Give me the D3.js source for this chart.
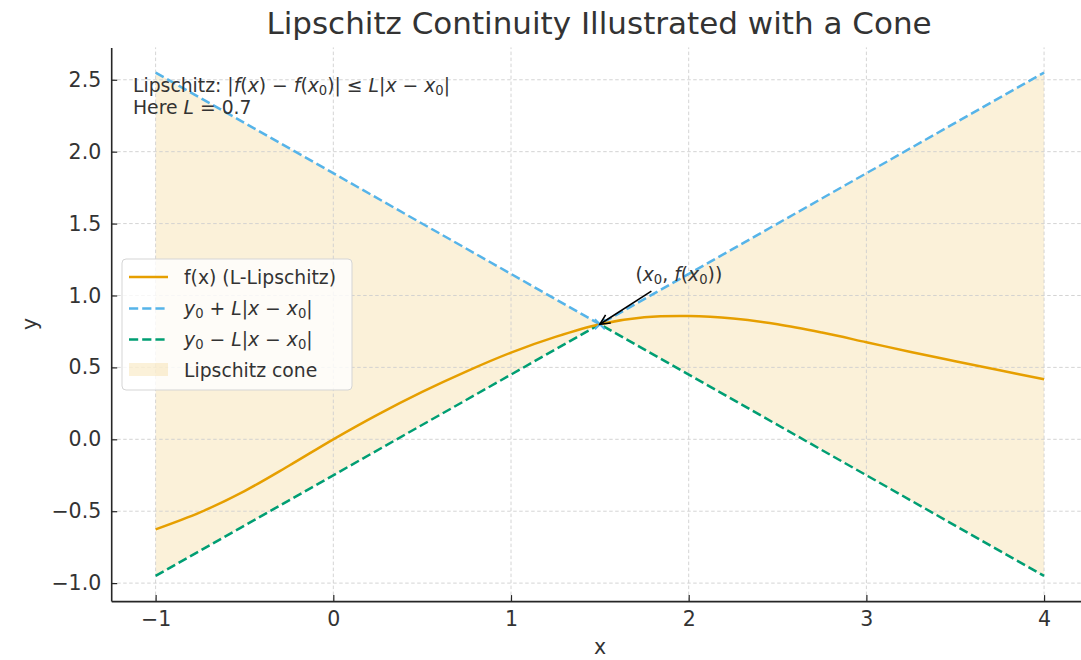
<!DOCTYPE html>
<html>
<head>
<meta charset="utf-8">
<script src="https://cdn.jsdelivr.net/npm/d3@7"></script>
<style>
body { margin: 0; background: #fff; }
text { font-family: "DejaVu Sans", sans-serif; fill: #333; }
</style>
</head>
<body>
<div id="chart"></div>
<script>
// f(x)
var xValues = [-1, -0.75, -0.5, -0.25, 0, 0.25, 0.5, 0.75, 1, 1.25, 1.5, 1.75, 2, 2.25, 2.5, 2.75, 3, 3.25, 3.5, 3.75, 4];
var fValues = [-0.626, -0.508, -0.36, -0.184, 0, 0.172, 0.33, 0.473, 0.603, 0.712, 0.80, 0.848, 0.857, 0.84, 0.80, 0.742, 0.675, 0.607, 0.543, 0.48, 0.418];

// cone edges
var coneX = [-1, 1.5, 4];
var upperY = [2.55, 0.8, 2.55];
var lowerY = [-0.95, 0.8, -0.95];
var pointX = 1.5, pointY = 0.8;

var xTicks = [-1, 0, 1, 2, 3, 4];
var yTicks = [-1, -0.5, 0, 0.5, 1, 1.5, 2, 2.5];
var xDomain = [-1.25, 4.25];
var yDomain = [-1.125, 2.725];

var width = 1081, height = 660;
var orange = '#E69F00', blue = '#56B4E9', green = '#009E73';

var svg = d3.select('#chart').append('svg')
    .attr('width', width)
    .attr('height', height);

var xScale = d3.scaleLinear().domain(xDomain).range([111.2, 1088.5]);
var yScale = d3.scaleLinear().domain(yDomain).range([601.1, 47.4]);

// write text with italic letters and subscripts, matplotlib mathtext style
function mathText(sel, parts, fs) {
  var shift = 0.16 * fs;
  var down = false;
  parts.forEach(function(p) {
    var t = sel.append('tspan').text(p[0]);
    if (p[1] == 'i') t.attr('font-style', 'italic');
    if (p[1] == 's') {
      t.attr('font-size', fs * 0.7).attr('dy', shift);
      down = true;
    } else if (down) {
      t.attr('dy', -shift);
      down = false;
    }
  });
}

// cone
var coneData = coneX.map(function(d, i) { return {x: d, hi: upperY[i], lo: lowerY[i]}; });
svg.append('path')
    .datum(coneData)
    .attr('d', d3.area().x(d => xScale(d.x)).y0(d => yScale(d.lo)).y1(d => yScale(d.hi)))
    .attr('fill', orange)
    .attr('fill-opacity', 0.15);

// grid
svg.append('g').selectAll('line').data(xTicks).enter().append('line')
    .attr('x1', d => xScale(d)).attr('x2', d => xScale(d))
    .attr('y1', yScale.range()[0]).attr('y2', yScale.range()[1])
    .attr('stroke', '#cfcfcf').attr('stroke-width', 0.9).attr('stroke-dasharray', '3.5,2.5');
svg.append('g').selectAll('line').data(yTicks).enter().append('line')
    .attr('x1', xScale.range()[0]).attr('x2', xScale.range()[1])
    .attr('y1', d => yScale(d)).attr('y2', d => yScale(d))
    .attr('stroke', '#cfcfcf').attr('stroke-width', 0.9).attr('stroke-dasharray', '3.5,2.5');

// cone edges
var edge = d3.line().x(d => xScale(d[0])).y(d => yScale(d[1]));
svg.append('path')
    .attr('d', edge(coneX.map((d, i) => [d, upperY[i]])))
    .attr('fill', 'none').attr('stroke', blue).attr('stroke-width', 2.5)
    .attr('stroke-dasharray', '9.2,4');
svg.append('path')
    .attr('d', edge(coneX.map((d, i) => [d, lowerY[i]])))
    .attr('fill', 'none').attr('stroke', green).attr('stroke-width', 2.5)
    .attr('stroke-dasharray', '9.2,4');

// f(x)
svg.append('path')
    .datum(xValues.map((d, i) => [d, fValues[i]]))
    .attr('d', d3.line().x(d => xScale(d[0])).y(d => yScale(d[1])).curve(d3.curveCatmullRom))
    .attr('fill', 'none').attr('stroke', orange).attr('stroke-width', 2.5);

// point marker (x)
var px = xScale(pointX), py = yScale(pointY);
svg.append('path')
    .attr('d', `M${px-5},${py-5}L${px+5},${py+5}M${px-5},${py+5}L${px+5},${py-5}`)
    .attr('stroke', blue).attr('stroke-width', 2);

// axes
var xAxis = d3.axisBottom(xScale).tickValues(xTicks).tickSizeInner(-6).tickSizeOuter(0).tickPadding(10)
    .tickFormat(d => d3.format('d')(d).replace('-', '\u2212'));
var yAxis = d3.axisLeft(yScale).tickValues(yTicks).tickSizeInner(-6).tickSizeOuter(0).tickPadding(10)
    .tickFormat(d => d3.format('.1f')(d).replace('-', '\u2212'));

var gx = svg.append('g').attr('transform', `translate(0,${yScale.range()[0]})`).call(xAxis);
var gy = svg.append('g').attr('transform', `translate(${xScale.range()[0]},0)`).call(yAxis);
[gx, gy].forEach(function(g) {
  g.select('.domain').attr('stroke', '#262626').attr('stroke-width', 1.6);
  g.selectAll('.tick line').attr('stroke', '#262626').attr('stroke-width', 1.2);
  g.selectAll('.tick text').attr('font-size', 20.5).attr('fill', '#333')
      .attr('font-family', '"DejaVu Sans", sans-serif');
});

// title and axis labels
svg.append('text').attr('x', 599).attr('y', 34).attr('text-anchor', 'middle')
    .attr('font-size', 31).text('Lipschitz Continuity Illustrated with a Cone');
svg.append('text').attr('x', 600).attr('y', 654).attr('text-anchor', 'middle')
    .attr('font-size', 20.5).text('x');
svg.append('text').attr('transform', 'translate(37,324) rotate(-90)').attr('text-anchor', 'middle')
    .attr('font-size', 20.5).text('y');

// note in the corner
var fs = 18.8;
var note = svg.append('text').attr('x', 133).attr('y', 91.5).attr('font-size', fs);
mathText(note, [['Lipschitz: |', ''], ['f', 'i'], ['(', ''], ['x', 'i'], [') \u2212 ', ''], ['f', 'i'], ['(', ''],
    ['x', 'i'], ['0', 's'], [')| \u2264 ', ''], ['L', 'i'], ['|', ''], ['x', 'i'], [' \u2212 ', ''], ['x', 'i'], ['0', 's'], ['|', '']], fs);
var note2 = svg.append('text').attr('x', 133).attr('y', 114).attr('font-size', fs);
mathText(note2, [['Here ', ''], ['L', 'i'], [' = 0.7', '']], fs);

// annotation
var ax = xScale(1.7), ay = yScale(1.1);
var ann = svg.append('text').attr('x', ax).attr('y', ay).attr('font-size', fs);
mathText(ann, [['(', ''], ['x', 'i'], ['0', 's'], [', ', ''], ['f', 'i'], ['(', ''], ['x', 'i'], ['0', 's'], ['))', '']], fs);

var sx = xScale(1.79), sy = yScale(1.03);
var ang = Math.atan2(py - sy, px - sx);
svg.append('line').attr('x1', sx).attr('y1', sy).attr('x2', px).attr('y2', py)
    .attr('stroke', '#000').attr('stroke-width', 1.6);
var hl = 11, ha = 0.45;
svg.append('path')
    .attr('d', `M${px - hl*Math.cos(ang - ha)},${py - hl*Math.sin(ang - ha)}L${px},${py}L${px - hl*Math.cos(ang + ha)},${py - hl*Math.sin(ang + ha)}`)
    .attr('fill', 'none').attr('stroke', '#000').attr('stroke-width', 1.6);

// legend
var legend = svg.append('g');
legend.append('rect')
    .attr('x', 122).attr('y', 259).attr('width', 230).attr('height', 131).attr('rx', 4)
    .attr('fill', '#fff').attr('fill-opacity', 0.8).attr('stroke', '#d5d5d5');
var rows = [277, 308.5, 339.5, 370];
legend.append('line').attr('x1', 129).attr('x2', 168).attr('y1', rows[0]).attr('y2', rows[0])
    .attr('stroke', orange).attr('stroke-width', 2.5);
legend.append('line').attr('x1', 129).attr('x2', 168).attr('y1', rows[1]).attr('y2', rows[1])
    .attr('stroke', blue).attr('stroke-width', 2.5).attr('stroke-dasharray', '9.2,4');
legend.append('line').attr('x1', 129).attr('x2', 168).attr('y1', rows[2]).attr('y2', rows[2])
    .attr('stroke', green).attr('stroke-width', 2.5).attr('stroke-dasharray', '9.2,4');
legend.append('rect').attr('x', 129).attr('y', rows[3] - 7).attr('width', 39).attr('height', 13)
    .attr('fill', orange).attr('fill-opacity', 0.15);

var t1 = legend.append('text').attr('x', 184).attr('y', rows[0] + 6.7).attr('font-size', fs);
t1.text('f(x) (L-Lipschitz)');
var t2 = legend.append('text').attr('x', 184).attr('y', rows[1] + 6.7).attr('font-size', fs);
mathText(t2, [['y', 'i'], ['0', 's'], [' + ', ''], ['L', 'i'], ['|', ''], ['x', 'i'], [' \u2212 ', ''], ['x', 'i'], ['0', 's'], ['|', '']], fs);
var t3 = legend.append('text').attr('x', 184).attr('y', rows[2] + 6.7).attr('font-size', fs);
mathText(t3, [['y', 'i'], ['0', 's'], [' \u2212 ', ''], ['L', 'i'], ['|', ''], ['x', 'i'], [' \u2212 ', ''], ['x', 'i'], ['0', 's'], ['|', '']], fs);
var t4 = legend.append('text').attr('x', 184).attr('y', rows[3] + 6.7).attr('font-size', fs);
t4.text('Lipschitz cone');
</script>
</body>
</html>
